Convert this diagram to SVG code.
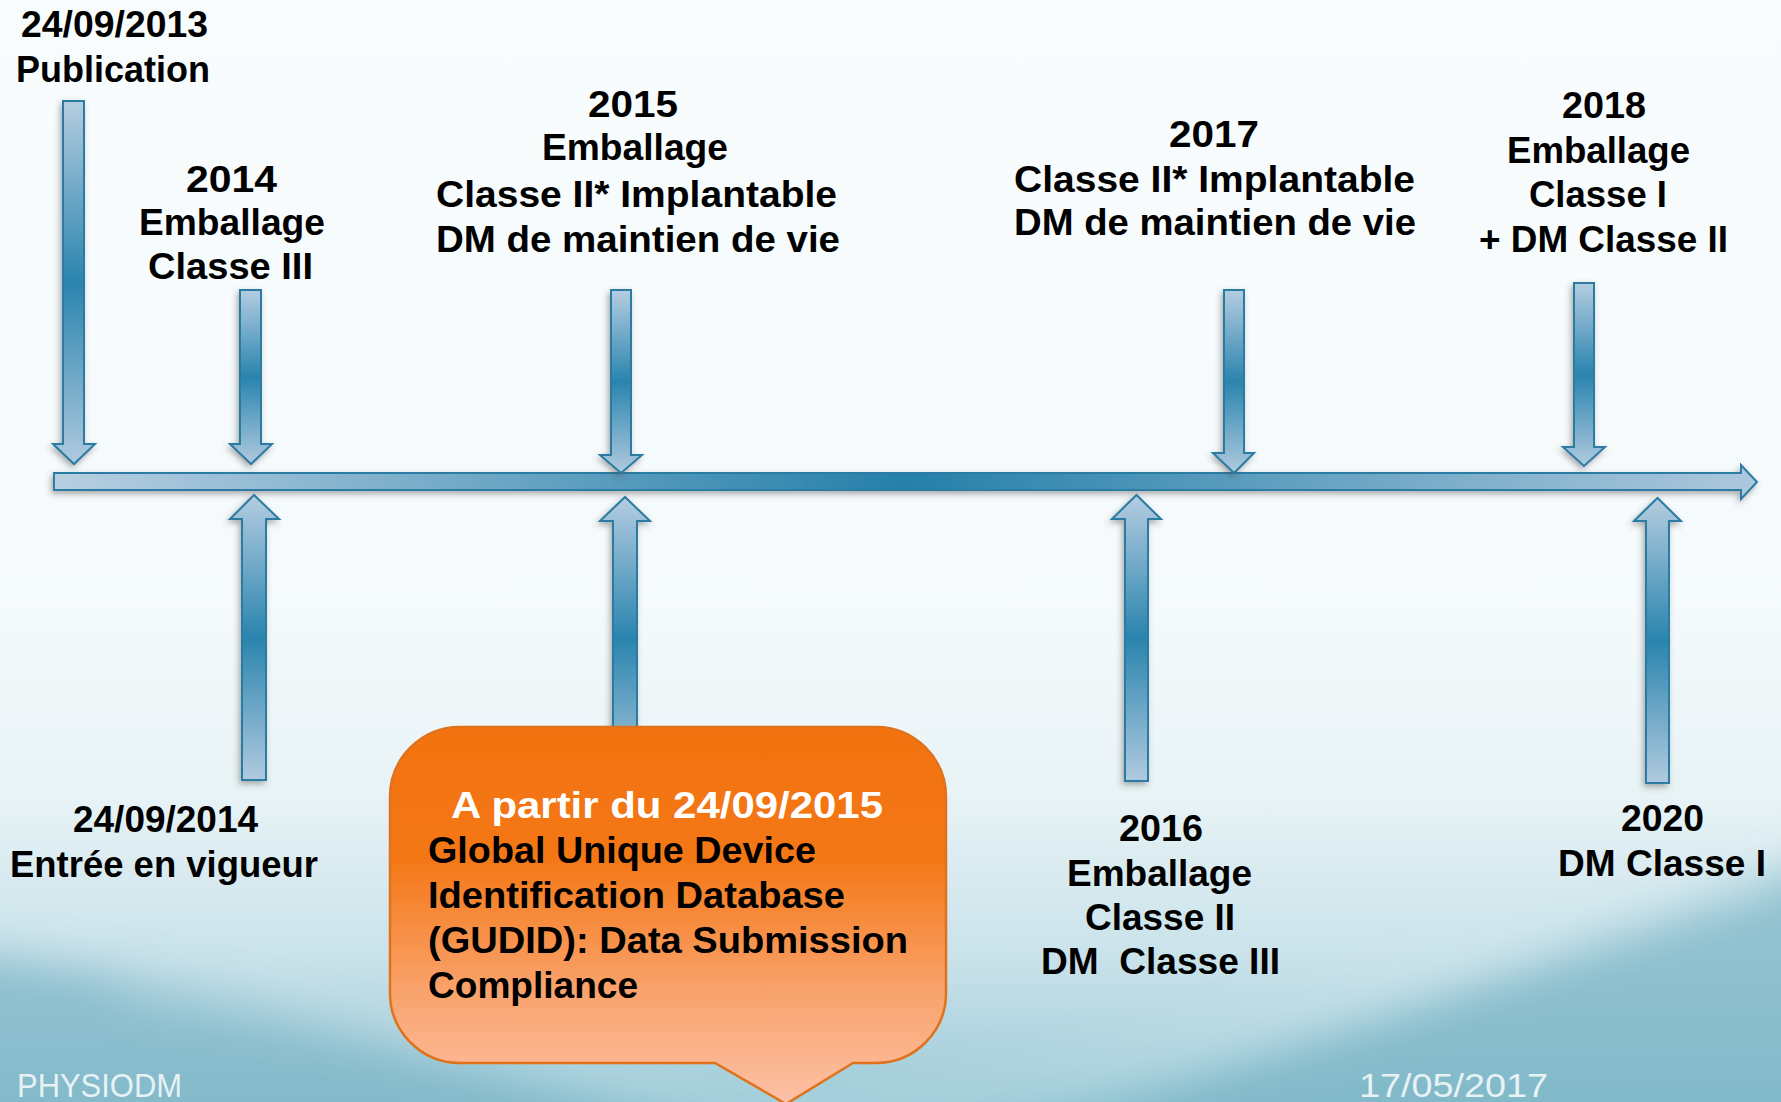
<svg xmlns="http://www.w3.org/2000/svg" width="1781" height="1102" viewBox="0 0 1781 1102">
  <defs>
    <style>
      .lbl { font-family: "Liberation Sans", Arial, sans-serif; font-weight: bold; font-size: 37px; fill: #000; }
      .box { font-family: "Liberation Sans", Arial, sans-serif; font-weight: bold; font-size: 36px; fill: #000; }
      .boxhead { fill: #fff; }
      .foot { font-family: "Liberation Sans", Arial, sans-serif; font-size: 33px; fill: #f2f8fa; fill-opacity: 0.92; }
      .varrow { fill: url(#vgrad); stroke: #2b7ba3; stroke-width: 2; filter: url(#shadow); }
      .bar { fill: url(#hgrad); stroke: #2b7ba3; stroke-width: 2; filter: url(#shadow); }
    </style>
    <linearGradient id="bg" x1="0" y1="0" x2="0" y2="1">
      <stop offset="0" stop-color="#f8fcfd"/>
      <stop offset="0.55" stop-color="#f5fafc"/>
      <stop offset="0.72" stop-color="#e8f3f6"/>
      <stop offset="0.87" stop-color="#c9e2ea"/>
      <stop offset="1" stop-color="#9ccad7"/>
    </linearGradient>
    <linearGradient id="vgrad" x1="0" y1="0" x2="0" y2="1">
      <stop offset="0" stop-color="#b5cde1"/>
      <stop offset="0.5" stop-color="#2a84ae"/>
      <stop offset="1" stop-color="#b0cadf"/>
    </linearGradient>
    <linearGradient id="hgrad" x1="0" y1="0" x2="1" y2="0">
      <stop offset="0" stop-color="#b8cfe2"/>
      <stop offset="0.5" stop-color="#2580aa"/>
      <stop offset="1" stop-color="#adc8dd"/>
    </linearGradient>
    <linearGradient id="orange" x1="0" y1="727" x2="0" y2="1102" gradientUnits="userSpaceOnUse">
      <stop offset="0" stop-color="#f37210"/>
      <stop offset="0.35" stop-color="#f47715"/>
      <stop offset="0.7" stop-color="#f9a26b"/>
      <stop offset="1" stop-color="#fdc1a6"/>
    </linearGradient>
    <filter id="shadow" x="-20%" y="-20%" width="140%" height="160%">
      <feDropShadow dx="-2" dy="3" stdDeviation="3" flood-color="#4a4a4a" flood-opacity="0.45"/>
    </filter>
    <filter id="soft" filterUnits="userSpaceOnUse" x="-200" y="600" width="2200" height="700">
      <feGaussianBlur stdDeviation="22"/>
    </filter>
  </defs>

  <!-- background with teal waves along the bottom -->
  <g id="background">
    <rect x="0" y="0" width="1781" height="1102" fill="url(#bg)"/>
    <path d="M-60,950 C250,985 520,1075 780,1160 L-60,1160 Z" fill="#7ab4c6" fill-opacity="0.7" filter="url(#soft)"/>
    <path d="M1840,855 C1560,950 1280,1060 960,1160 L1840,1160 Z" fill="#78b2c4" fill-opacity="0.7" filter="url(#soft)"/>
    <path d="M120,990 C400,1030 650,1095 820,1110 C1050,1095 1400,990 1781,880" fill="none" stroke="#e6f3f6" stroke-opacity="0.5" stroke-width="12" filter="url(#soft)"/>
  </g>

  <!-- timeline axis -->
  <g id="connectors">
    <path class="bar" d="M54,473 H1741 V465 L1757,482 L1741,499 V490 H54 Z"/>
  </g>

  <!-- milestones above the axis -->
  <g id="m2013">
    <path class="varrow" d="M63,101 H84 V444 H95 L74,464 L53,444 H63 Z"/>
    <text class="lbl" x="21" y="37" textLength="187" lengthAdjust="spacingAndGlyphs">24/09/2013</text>
    <text class="lbl" x="16" y="82" textLength="194" lengthAdjust="spacingAndGlyphs">Publication</text>
  </g>
  <g id="m2014">
    <path class="varrow" d="M240,290 H261 V444 H272 L251,464 L230,444 H240 Z"/>
    <text class="lbl" x="186" y="192" textLength="91" lengthAdjust="spacingAndGlyphs">2014</text>
    <text class="lbl" x="139" y="235" textLength="186" lengthAdjust="spacingAndGlyphs">Emballage</text>
    <text class="lbl" x="148" y="279" textLength="165" lengthAdjust="spacingAndGlyphs">Classe III</text>
  </g>
  <g id="m2015">
    <path class="varrow" d="M611,290 H631 V455 H642 L621,473 L600,455 H611 Z"/>
    <text class="lbl" x="588" y="117" textLength="90" lengthAdjust="spacingAndGlyphs">2015</text>
    <text class="lbl" x="542" y="160" textLength="186" lengthAdjust="spacingAndGlyphs">Emballage</text>
    <text class="lbl" x="436" y="207" textLength="401" lengthAdjust="spacingAndGlyphs">Classe II* Implantable</text>
    <text class="lbl" x="436" y="252" textLength="404" lengthAdjust="spacingAndGlyphs">DM de maintien de vie</text>
  </g>
  <g id="m2017">
    <path class="varrow" d="M1224,290 H1244 V453 H1254 L1234,473 L1213,453 H1224 Z"/>
    <text class="lbl" x="1169" y="147" textLength="90" lengthAdjust="spacingAndGlyphs">2017</text>
    <text class="lbl" x="1014" y="192" textLength="401" lengthAdjust="spacingAndGlyphs">Classe II* Implantable</text>
    <text class="lbl" x="1014" y="235" textLength="402" lengthAdjust="spacingAndGlyphs">DM de maintien de vie</text>
  </g>
  <g id="m2018">
    <path class="varrow" d="M1574,283 H1594 V447 H1605 L1584,466 L1563,447 H1574 Z"/>
    <text class="lbl" x="1562" y="118" textLength="84" lengthAdjust="spacingAndGlyphs">2018</text>
    <text class="lbl" x="1507" y="163" textLength="183" lengthAdjust="spacingAndGlyphs">Emballage</text>
    <text class="lbl" x="1529" y="207" textLength="138" lengthAdjust="spacingAndGlyphs">Classe I</text>
    <text class="lbl" x="1479" y="252" textLength="249" lengthAdjust="spacingAndGlyphs">+ DM Classe II</text>
  </g>

  <!-- milestones below the axis -->
  <g id="m2014b">
    <path class="varrow" d="M242,780 V519 H230 L254,495 L279,519 H266 V780 Z"/>
    <text class="lbl" x="73" y="832" textLength="185" lengthAdjust="spacingAndGlyphs">24/09/2014</text>
    <text class="lbl" x="10" y="877" textLength="308" lengthAdjust="spacingAndGlyphs">Entrée en vigueur</text>
  </g>
  <g id="m2016">
    <path class="varrow" d="M1125,781 V519 H1112 L1136.5,495 L1161,519 H1148 V781 Z"/>
    <text class="lbl" x="1119" y="841" textLength="84" lengthAdjust="spacingAndGlyphs">2016</text>
    <text class="lbl" x="1067" y="886" textLength="185" lengthAdjust="spacingAndGlyphs">Emballage</text>
    <text class="lbl" x="1085" y="930" textLength="150" lengthAdjust="spacingAndGlyphs">Classe II</text>
    <text class="lbl" x="1041" y="974" textLength="239" lengthAdjust="spacingAndGlyphs" xml:space="preserve">DM  Classe III</text>
  </g>
  <g id="m2020">
    <path class="varrow" d="M1646,783 V521 H1634 L1657.5,498 L1681,521 H1669 V783 Z"/>
    <text class="lbl" x="1621" y="831" textLength="83" lengthAdjust="spacingAndGlyphs">2020</text>
    <text class="lbl" x="1558" y="876" textLength="208" lengthAdjust="spacingAndGlyphs">DM Classe I</text>
  </g>

  <!-- GUDID callout -->
  <g id="gudid">
    <path class="varrow" d="M613,780 V521 H600 L625,497 L650,521 H637 V780 Z"/>
    <path d="M460,727 H876 A70,70 0 0 1 946,797 V993 A70,70 0 0 1 876,1063 H853 L786,1104 L715,1063 H460 A70,70 0 0 1 390,993 V797 A70,70 0 0 1 460,727 Z" fill="url(#orange)" stroke="#e0721c" stroke-width="2.5"/>
    <text class="box boxhead" x="451" y="818" textLength="432" lengthAdjust="spacingAndGlyphs">A partir du 24/09/2015</text>
    <text class="box" x="428" y="863" textLength="388" lengthAdjust="spacingAndGlyphs">Global Unique Device</text>
    <text class="box" x="428" y="908" textLength="417" lengthAdjust="spacingAndGlyphs">Identification Database</text>
    <text class="box" x="428" y="953" textLength="480" lengthAdjust="spacingAndGlyphs">(GUDID): Data Submission</text>
    <text class="box" x="428" y="998" textLength="210" lengthAdjust="spacingAndGlyphs">Compliance</text>
  </g>

  <!-- footer -->
  <g id="footer">
    <text class="foot" x="17" y="1097" textLength="165" lengthAdjust="spacingAndGlyphs">PHYSIODM</text>
    <text class="foot" x="1359" y="1097" textLength="189" lengthAdjust="spacingAndGlyphs">17/05/2017</text>
  </g>
</svg>
